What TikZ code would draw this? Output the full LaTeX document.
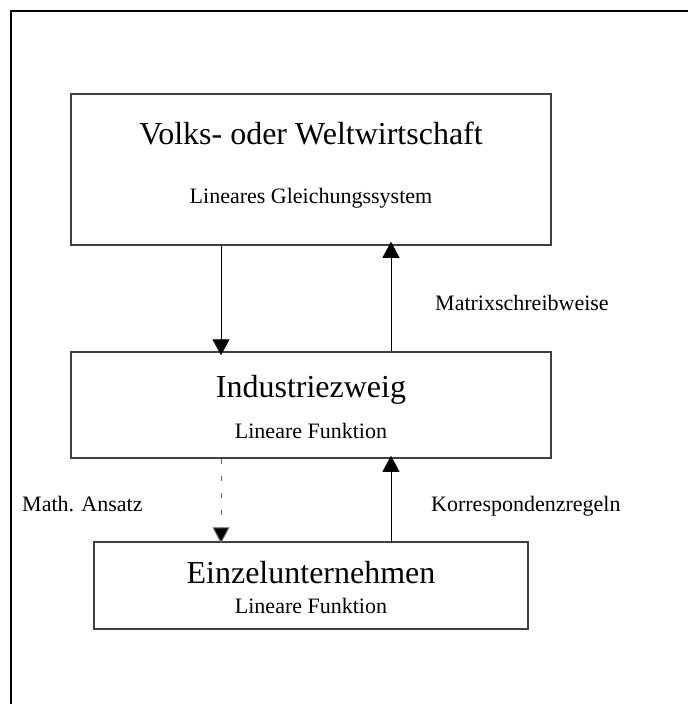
\documentclass[tikz,border=0pt]{standalone}
\usepackage{fontspec}
\setmainfont{Liberation Serif}
\usetikzlibrary{arrows.meta}
\begin{document}
\begin{tikzpicture}[x=1pt,y=-1pt,
  box/.style={draw=black!75,line width=1.5pt,rectangle,inner sep=0pt},
  big/.style={font=\fontsize{32}{34}\selectfont,inner sep=0pt,anchor=base},
  small/.style={font=\fontsize{22}{24}\selectfont,inner sep=0pt,anchor=base},
  lab/.style={font=\fontsize{22}{24}\selectfont,inner sep=0pt,anchor=base west},
  conn/.style={line width=1pt,-{Triangle[width=17pt,length=16pt]}},
  dconn/.style={line width=1pt,draw=black!60,dash pattern=on 5pt off 12pt,-{Triangle[width=17pt,length=16pt,fill=black]}}]
\useasboundingbox (0,0) rectangle (688,704);
\draw[line width=2.2pt] (11,704) -- (11,11) -- (688,11);
\node[box,minimum width=480pt,minimum height=151pt] (b1) at (311,169.5) {};
\node[box,minimum width=480pt,minimum height=106pt] (b2) at (311,405) {};
\node[box,minimum width=434pt,minimum height=87pt] (b3) at (311,585.5) {};
\node[big] (t1) at (311,144) {Volks- oder Weltwirtschaft};
\node[small] (s1) at (311,203) {Lineares Gleichungssystem};
\node[big] (t2) at (311,397) {Industriezweig};
\node[small] (s2) at (311,438) {Lineare Funktion};
\node[big] (t3) at (311,583) {Einzelunternehmen};
\node[small] (s3) at (311,613) {Lineare Funktion};
\node[lab] (l1) at (435,310) {Matrixschreibweise};
\node[lab] (l2) at (22,511) {Math. Ansatz};
\node[lab] (l3) at (431,511) {Korrespondenzregeln};
\coordinate (xa) at (221,0);
\coordinate (xb) at (391,0);
\draw[conn] (b1.south -| xa) -- ([yshift=-4pt]b2.north -| xa);
\draw[conn] (b2.north -| xb) -- ([yshift=4pt]b1.south -| xb);
\draw[dconn] (b2.south -| xa) -- ([yshift=-2pt]b3.north -| xa);
\draw[conn] ([yshift=-2pt]b3.north -| xb) -- ([yshift=3pt]b2.south -| xb);
\end{tikzpicture}
\end{document}
